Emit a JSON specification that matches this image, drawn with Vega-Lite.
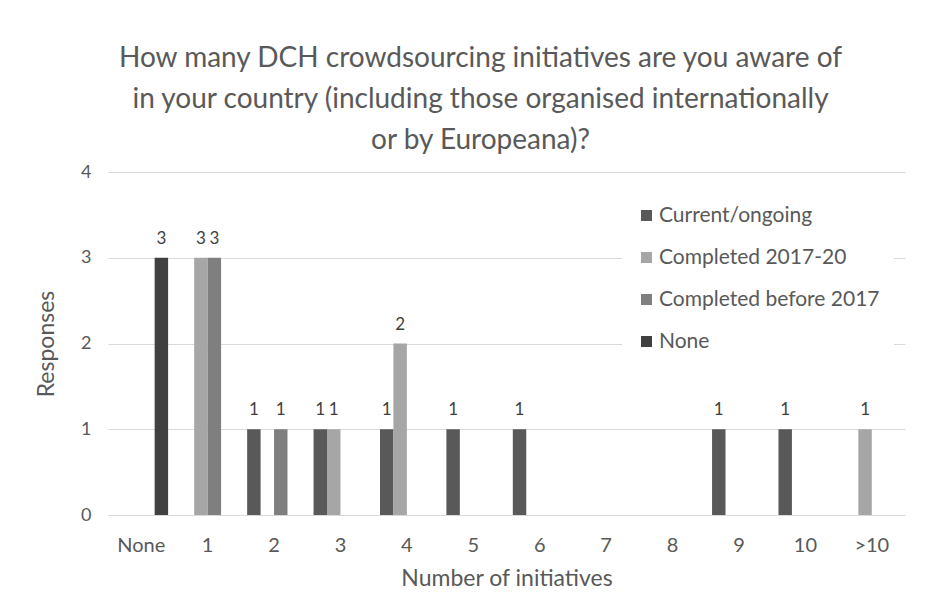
{
  "$schema": "https://vega.github.io/schema/vega-lite/v6.json",
  "width": 797,
  "height": 343,
  "autosize": {"type": "none"},
  "padding": {"left": 108, "top": 172, "right": 39, "bottom": 84},
  "background": "white",
  "title": {
    "text": ["How many DCH crowdsourcing initiatives are you aware of", "in your country (including those organised internationally", "or by Europeana)?"],
    "font": "Lato",
    "fontSize": 28,
    "fontWeight": "normal",
    "color": "#595959",
    "lineHeight": 41,
    "anchor": "middle",
    "dx": -26,
    "offset": 8
  },
  "data": {
    "values": [
      {"cat": "None", "series": "None", "value": 3},
      {"cat": "1", "series": "Completed 2017-20", "value": 3},
      {"cat": "1", "series": "Completed before 2017", "value": 3},
      {"cat": "2", "series": "Current/ongoing", "value": 1},
      {"cat": "2", "series": "Completed before 2017", "value": 1},
      {"cat": "3", "series": "Current/ongoing", "value": 1},
      {"cat": "3", "series": "Completed 2017-20", "value": 1},
      {"cat": "4", "series": "Current/ongoing", "value": 1},
      {"cat": "4", "series": "Completed 2017-20", "value": 2},
      {"cat": "5", "series": "Current/ongoing", "value": 1},
      {"cat": "6", "series": "Current/ongoing", "value": 1},
      {"cat": "9", "series": "Current/ongoing", "value": 1},
      {"cat": "10", "series": "Current/ongoing", "value": 1},
      {"cat": ">10", "series": "Completed 2017-20", "value": 1}
    ]
  },
  "encoding": {
    "x": {
      "field": "cat",
      "type": "nominal",
      "sort": ["None", "1", "2", "3", "4", "5", "6", "7", "8", "9", "10", ">10"],
      "scale": {"domain": ["None", "1", "2", "3", "4", "5", "6", "7", "8", "9", "10", ">10"], "paddingInner": 0.19, "paddingOuter": 0.095},
      "axis": {
        "title": "Number of initiatives",
        "titleFont": "Lato",
        "titleFontSize": 23,
        "titleFontWeight": "normal",
        "titleColor": "#595959",
        "titlePadding": 12,
        "labelAngle": 0,
        "labelFont": "Lato",
        "labelFontSize": 20,
        "labelColor": "#595959",
        "labelPadding": 20,
        "ticks": false,
        "domain": true,
        "domainColor": "#d9d9d9",
        "grid": false
      }
    },
    "xOffset": {
      "field": "series",
      "type": "nominal",
      "scale": {"domain": ["Current/ongoing", "Completed 2017-20", "Completed before 2017", "None"], "paddingInner": 0, "paddingOuter": 0}
    },
    "y": {
      "field": "value",
      "type": "quantitative",
      "scale": {"domain": [0, 4]},
      "axis": {
        "title": "Responses",
        "titleFont": "Lato",
        "titleFontSize": 23,
        "titleFontWeight": "normal",
        "titleColor": "#595959",
        "titlePadding": 22,
        "values": [0, 1, 2, 3, 4],
        "format": "d",
        "labelFont": "Lato",
        "labelFontSize": 18,
        "labelColor": "#595959",
        "labelPadding": 17,
        "ticks": false,
        "domain": false,
        "grid": true,
        "gridColor": "#d9d9d9"
      }
    }
  },
  "layer": [
    {
      "mark": {"type": "bar"},
      "encoding": {
        "color": {
          "field": "series",
          "type": "nominal",
          "scale": {"domain": ["Current/ongoing", "Completed 2017-20", "Completed before 2017", "None"], "range": ["#595959", "#a6a6a6", "#7f7f7f", "#404040"]},
          "legend": {
            "title": null,
            "orient": "none",
            "legendX": 514,
            "legendY": 19,
            "padding": 14,
            "fillColor": "white",
            "symbolType": "square",
            "symbolSize": 121,
            "symbolStrokeWidth": 0,
            "labelFont": "Lato",
            "labelFontSize": 21,
            "labelColor": "#595959",
            "labelOffset": 2,
            "labelLimit": 0,
            "rowPadding": 20
          }
        }
      }
    },
    {
      "mark": {"type": "text", "dy": -19, "font": "Lato", "fontSize": 17, "color": "#404040"},
      "encoding": {"text": {"field": "value", "type": "quantitative"}}
    }
  ],
  "config": {"view": {"stroke": null}}
}
